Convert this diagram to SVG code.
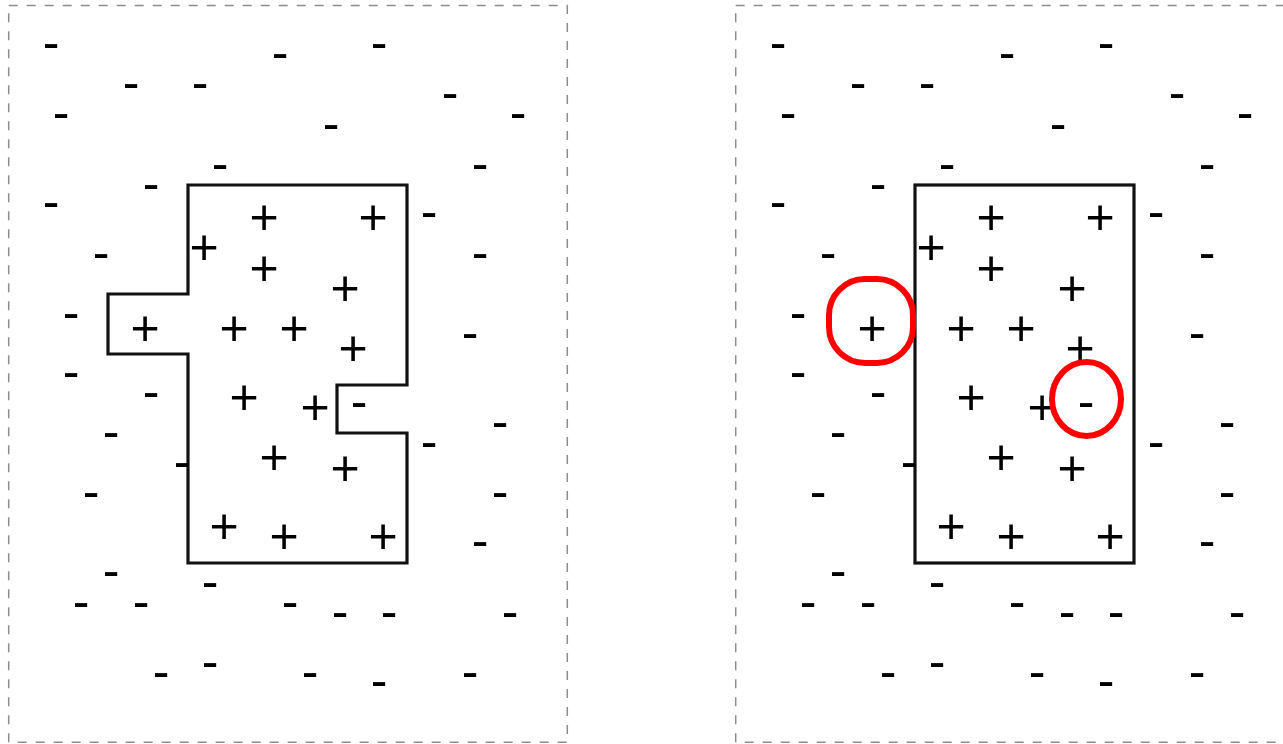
<svg xmlns="http://www.w3.org/2000/svg" xmlns:xlink="http://www.w3.org/1999/xlink" width="1283" height="744" viewBox="0 0 1283 744">
<style>
.s{font-family:"Liberation Sans",Arial,sans-serif;font-size:50px;text-anchor:middle;fill:#000}
.frame{fill:none;stroke:#8c8c8c;stroke-width:1.5;stroke-dasharray:9 9}
.box{fill:none;stroke:#111;stroke-width:3.2;stroke-linejoin:miter}
.mark{fill:none;stroke:#ff0000;stroke-width:6}
</style>
<defs>
<g id="signs">
<text class="s" x="51" y="58.7">-</text>
<text class="s" x="280" y="68.7">-</text>
<text class="s" x="379" y="58.7">-</text>
<text class="s" x="131" y="98.7">-</text>
<text class="s" x="200" y="98.7">-</text>
<text class="s" x="450" y="108.7">-</text>
<text class="s" x="61" y="128.7">-</text>
<text class="s" x="518" y="128.7">-</text>
<text class="s" x="331" y="139.7">-</text>
<text class="s" x="220" y="179.7">-</text>
<text class="s" x="480" y="179.7">-</text>
<text class="s" x="151" y="199.7">-</text>
<text class="s" x="51" y="217.7">-</text>
<text class="s" x="429" y="227.7">-</text>
<text class="s" x="101" y="268.7">-</text>
<text class="s" x="480" y="268.7">-</text>
<text class="s" x="71" y="328.7">-</text>
<text class="s" x="470" y="348.7">-</text>
<text class="s" x="71" y="387.7">-</text>
<text class="s" x="151" y="407.7">-</text>
<text class="s" x="359" y="417.7">-</text>
<text class="s" x="500" y="437.7">-</text>
<text class="s" x="111" y="447.7">-</text>
<text class="s" x="429" y="457.7">-</text>
<text class="s" x="182" y="477.7">-</text>
<text class="s" x="91" y="507.7">-</text>
<text class="s" x="500" y="507.7">-</text>
<text class="s" x="480" y="556.7">-</text>
<text class="s" x="111" y="586.7">-</text>
<text class="s" x="210" y="597.7">-</text>
<text class="s" x="81" y="617.7">-</text>
<text class="s" x="141" y="617.7">-</text>
<text class="s" x="290" y="617.7">-</text>
<text class="s" x="340" y="627.7">-</text>
<text class="s" x="389" y="627.7">-</text>
<text class="s" x="510" y="627.7">-</text>
<text class="s" x="210" y="677.7">-</text>
<text class="s" x="161" y="687.7">-</text>
<text class="s" x="310" y="687.7">-</text>
<text class="s" x="470" y="687.7">-</text>
<text class="s" x="379" y="696.7">-</text>
<text class="s" x="264" y="233.6">+</text>
<text class="s" x="373" y="233.6">+</text>
<text class="s" x="204" y="263.6">+</text>
<text class="s" x="264" y="284.6">+</text>
<text class="s" x="345" y="304.6">+</text>
<text class="s" x="145" y="344.6">+</text>
<text class="s" x="234" y="344.6">+</text>
<text class="s" x="294" y="344.6">+</text>
<text class="s" x="353" y="364.6">+</text>
<text class="s" x="244" y="413.6">+</text>
<text class="s" x="315" y="423.6">+</text>
<text class="s" x="274" y="473.6">+</text>
<text class="s" x="345" y="484.6">+</text>
<text class="s" x="224" y="542.6">+</text>
<text class="s" x="284" y="552.6">+</text>
<text class="s" x="383" y="552.6">+</text>
</g>
</defs>
<g id="left-panel">
<rect class="frame" x="8.7" y="5.5" width="558.6" height="736.8"/>
<path class="box" d="M188,185 H407 V385 H337 V433 H407 V563 H188 V354 H108 V294 H188 Z"/>
<use xlink:href="#signs"/>
</g>
<g id="right-panel">
<rect class="frame" x="735.7" y="5.5" width="558.6" height="736.8"/>
<rect class="box" x="915" y="185" width="219" height="378"/>
<use xlink:href="#signs" transform="translate(727,0)"/>
</g>
<g id="highlights">
<rect class="mark" x="829" y="279" width="84" height="84" rx="36"/>
<ellipse class="mark" cx="1086.5" cy="399" rx="34.5" ry="37"/>
</g>
</svg>
